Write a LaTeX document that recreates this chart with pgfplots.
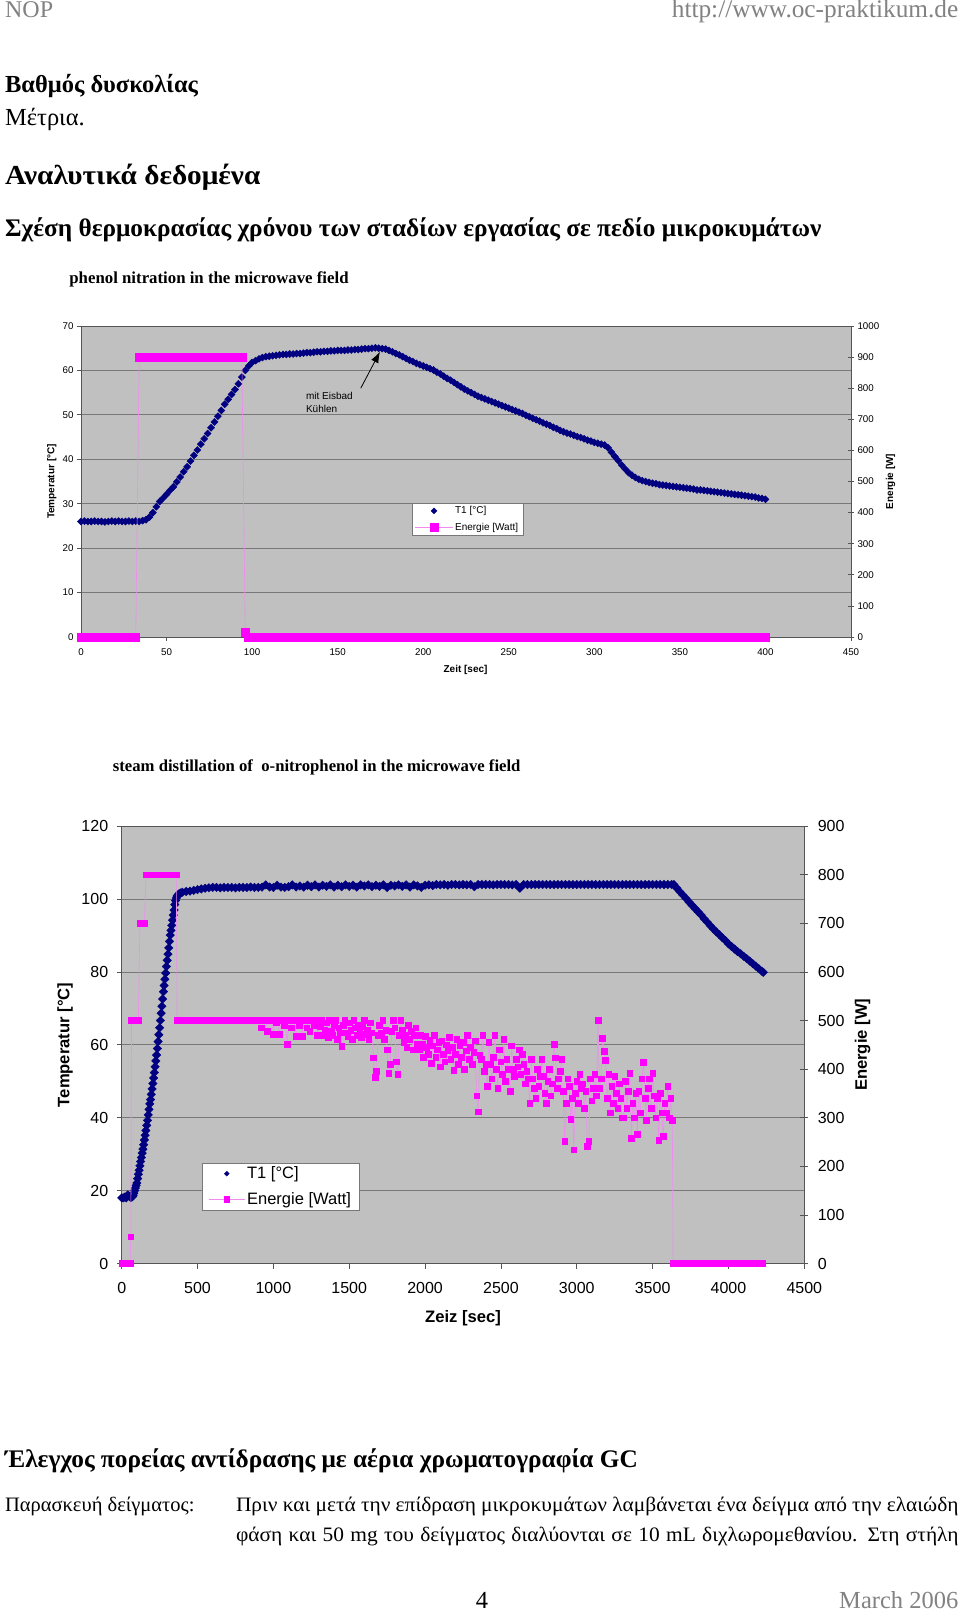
\documentclass[border=0pt]{standalone}
\usepackage{fontspec}
\setmainfont{Liberation Serif}
\newfontfamily\arial{Liberation Sans}
\newfontfamily\wideserif[FakeStretch=1.065]{Liberation Serif}
\newfontfamily\bodywide[FakeStretch=1.045]{Liberation Serif}
\usepackage{pgfplots}
\pgfplotsset{compat=1.18}
\usetikzlibrary{arrows.meta}
\definecolor{navyc}{RGB}{0,0,128}
\definecolor{mag}{RGB}{255,0,255}
\definecolor{pinkl}{RGB}{240,140,240}
\definecolor{bgc}{RGB}{192,192,192}
\definecolor{gridc}{RGB}{120,120,120}
\definecolor{axc}{RGB}{85,85,85}
\definecolor{hdr}{RGB}{130,130,130}
\newcommand{\fs}[1]{\fontsize{#1}{#1}\selectfont}
\pgfplotsset{
  xl/.style={scale only axis, clip=false,
    /pgf/number format/assume math mode=true,
    /pgf/number format/set thousands separator={}},
}
\begin{document}
\begin{tikzpicture}
\path[use as bounding box] (0,0) rectangle (960pt,-1616pt);
\fill[white] (0,0) rectangle (960pt,-1616pt);
% ---------- page text ----------
\node[anchor=base west,inner sep=0,text=hdr,font=\fs{24}] at (4.9pt,-17.5pt) {NOP};
\node[anchor=base east,inner sep=0,text=hdr,font=\fs{25.3}] at (958.5pt,-17.5pt) {http://www.oc-praktikum.de};
\node[anchor=base west,inner sep=0,font=\bfseries\fs{24.5}] at (4.9pt,-92.7pt) {Βαθμός δυσκολίας};
\node[anchor=base west,inner sep=0,font=\fs{24.5}] at (4.9pt,-126pt) {Μέτρια.};
\node[anchor=base west,inner sep=0,font=\wideserif\bfseries\fs{27.5}] at (4.9pt,-184.3pt) {Αναλυτικά δεδομένα};
\node[anchor=base west,inner sep=0,font=\bfseries\fs{25.3}] at (4.9pt,-236.3pt) {Σχέση θερμοκρασίας χρόνου των σταδίων εργασίας σε πεδίο μικροκυμάτων};
\node[anchor=base west,inner sep=0,font=\bfseries\fs{16.8}] at (69.2pt,-283.3pt) {phenol nitration in the microwave field};
\node[anchor=base west,inner sep=0,font=\bfseries\fs{16.7}] at (112.7pt,-771.4pt) {steam distillation of\ \ o-nitrophenol in the microwave field};
\node[anchor=base west,inner sep=0,font=\bfseries\fs{25.3}] at (4.9pt,-1467pt) {Έλεγχος πορείας αντίδρασης με αέρια χρωματογραφία GC};
\node[anchor=base west,inner sep=0,font=\fs{20.5}] at (4.9pt,-1511pt) {Παρασκευή δείγματος:};
\node[anchor=base west,inner sep=0,font=\bodywide\fs{20.5}] at (235.8pt,-1511pt) {\makebox[722.6pt][s]{Πριν και μετά την επίδραση μικροκυμάτων λαμβάνεται ένα δείγμα από την ελαιώδη}};
\node[anchor=base west,inner sep=0,font=\bodywide\fs{20.5}] at (235.8pt,-1541pt) {\makebox[722.6pt][s]{φάση και 50 mg του δείγματος διαλύονται σε 10 mL διχλωρομεθανίου. Στη στήλη}};
\node[anchor=base,inner sep=0,font=\fs{24.5}] at (482pt,-1608pt) {4};
\node[anchor=base east,inner sep=0,text=hdr,font=\fs{24.5}] at (958.5pt,-1608pt) {March 2006};
% ---------- chart 1 ----------
\begin{axis}[xl,
  at={(81pt,-637pt)}, anchor=south west, width=770pt, height=311pt,
  xmin=0, xmax=450, ymin=0, ymax=70,
  xtick={0,50,...,450}, ytick={0,10,...,70},
  xtick pos=bottom, ytick pos=left, tick align=outside, major tick length=4pt,
  axis background/.style={fill=bgc},
  ymajorgrids, major grid style={gridc, line width=0.8pt},
  axis line style={axc, line width=1pt},
  tick style={axc, line width=0.8pt},
  tick label style={font=\arial\fs{9.75}},
  xticklabel style={yshift=-4pt},
  xlabel={Zeit [sec]}, ylabel={Temperatur [°C]},
  every axis y label/.style={at={(axis description cs:-0.038,0.5)}, rotate=90, anchor=center, font=\arial\bfseries\fs{10}},
  every axis x label/.style={at={(axis description cs:0.4994,-0.106)}, anchor=center, font=\arial\bfseries\fs{10}},
]
\addplot[only marks, mark=square*, mark size=2.5pt, mark options={rotate=45, fill=navyc, draw=navyc}] table[row sep=\\] {
t y\\
0 26.0\\ 2 26.1\\ 4 26.0\\ 6 26.0\\ 8 26.1\\ 10 26.0\\ 12 26.0\\ 14 25.9\\ 16 26.0\\ 18 26.1\\ 20 26.0\\ 22 26.1\\ 24 26.0\\ 26 26.0\\ 28 26.1\\ 30 26.0\\ 32 26.1\\ 34 26.0\\ 36 26.2\\ 38 26.4\\
40 27.0\\ 42 28.0\\ 44 29.3\\ 46 30.5\\ 48 31.3\\ 50 32.1\\ 52 33.0\\ 54 33.8\\ 56 34.9\\ 58 36.0\\ 60 37.2\\ 62 38.3\\ 64 39.6\\ 66 40.9\\ 68 42.1\\ 70 43.4\\ 72 44.6\\ 74 45.8\\ 76 47.1\\ 78 48.4\\
80 49.7\\ 82 51.0\\ 84 52.4\\ 86 53.5\\ 88 54.6\\ 90 55.7\\ 92 57.0\\ 94 58.5\\ 96 60.0\\ 98 61.0\\ 100 61.8\\ 102 62.2\\ 104 62.6\\ 106 62.9\\ 108 63.1\\ 110 63.2\\ 112 63.3\\ 114 63.4\\ 116 63.5\\ 118 63.6\\
120 63.6\\ 122 63.7\\ 124 63.7\\ 126 63.8\\ 128 63.8\\ 130 63.9\\ 132 64.0\\ 134 64.0\\ 136 64.1\\ 138 64.2\\ 140 64.2\\ 142 64.3\\ 144 64.3\\ 146 64.4\\ 148 64.4\\ 150 64.5\\ 152 64.5\\ 154 64.5\\ 156 64.6\\ 158 64.6\\
160 64.7\\ 162 64.7\\ 164 64.8\\ 166 64.9\\ 168 64.9\\ 170 65.0\\ 172 65.1\\ 174 65.0\\ 176 64.9\\ 178 64.8\\ 180 64.5\\ 182 64.2\\ 184 63.8\\ 186 63.5\\ 188 63.1\\ 190 62.7\\ 192 62.3\\ 194 62.0\\ 196 61.6\\ 198 61.3\\
200 61.0\\ 202 60.7\\ 204 60.4\\ 206 60.1\\ 208 59.6\\ 210 59.2\\ 212 58.7\\ 214 58.2\\ 216 57.8\\ 218 57.3\\ 220 56.8\\ 222 56.3\\ 224 55.8\\ 226 55.4\\ 228 55.0\\ 230 54.6\\ 232 54.2\\ 234 53.9\\ 236 53.6\\ 238 53.3\\
240 53.0\\ 242 52.7\\ 244 52.4\\ 246 52.1\\ 248 51.8\\ 250 51.5\\ 252 51.2\\ 254 50.9\\ 256 50.6\\ 258 50.3\\ 260 49.9\\ 262 49.6\\ 264 49.2\\ 266 48.9\\ 268 48.6\\ 270 48.2\\ 272 47.9\\ 274 47.6\\ 276 47.2\\ 278 46.9\\
280 46.5\\ 282 46.2\\ 284 45.9\\ 286 45.7\\ 288 45.4\\ 290 45.1\\ 292 44.9\\ 294 44.6\\ 296 44.3\\ 298 44.1\\ 300 43.8\\ 302 43.6\\ 304 43.4\\ 306 43.2\\ 308 42.6\\ 310 41.6\\ 312 40.6\\ 314 39.7\\ 316 38.7\\ 318 37.8\\
320 37.0\\ 322 36.4\\ 324 35.9\\ 326 35.5\\ 328 35.2\\ 330 35.0\\ 332 34.8\\ 334 34.6\\ 336 34.5\\ 338 34.3\\ 340 34.2\\ 342 34.1\\ 344 34.0\\ 346 33.9\\ 348 33.8\\ 350 33.7\\ 352 33.6\\ 354 33.5\\ 356 33.4\\ 358 33.3\\
360 33.1\\ 362 33.1\\ 364 33.0\\ 366 32.9\\ 368 32.8\\ 370 32.7\\ 372 32.6\\ 374 32.5\\ 376 32.4\\ 378 32.3\\ 380 32.2\\ 382 32.1\\ 384 32.0\\ 386 31.9\\ 388 31.8\\ 390 31.7\\ 392 31.6\\ 394 31.5\\ 396 31.3\\ 398 31.2\\ 400 31.0\\
};
\draw[-{Latex[length=11pt,width=8pt]}, line width=0.8pt] (axis cs:163.5,56.0) -- (axis cs:174.7,64.2);
\node[anchor=base west, inner sep=0, font=\arial\fs{10}] at (axis cs:131.4,53.5) {mit Eisbad};
\node[anchor=base west, inner sep=0, font=\arial\fs{10}] at (axis cs:131.4,50.5) {Kühlen};
\end{axis}
\begin{axis}[xl,
  at={(81pt,-637pt)}, anchor=south west, width=770pt, height=311pt,
  xmin=0, xmax=450, ymin=0, ymax=1000,
  axis x line=none, axis y line*=right,
  ytick={0,100,...,1000}, ytick align=center, major tick length=6pt,
  y axis line style={axc, line width=1pt, -},
  tick style={axc, line width=0.8pt},
  tick label style={font=\arial\fs{9.75}},
  ylabel={Energie [W]},
  every axis y label/.style={at={(axis description cs:1.0515,0.5)}, rotate=90, anchor=center, font=\arial\bfseries\fs{10}},
  legend image code/.code={\draw[#1,mark repeat=2,mark phase=2] plot coordinates {(0pt,0pt) (18.8pt,0pt) (37.6pt,0pt)};},
  legend style={at={(axis description cs:0.4295,0.4299)}, anchor=north west, draw=gridc, fill=white,
    font=\arial\fs{10}, inner xsep=3pt, inner ysep=1pt, row sep=4pt, cells={anchor=west}},
]
\addlegendimage{only marks, mark=square*, mark size=2.1pt, mark options={rotate=45, fill=navyc, draw=navyc}}
\addlegendentry{T1 [°C]}
\addplot[pinkl, line width=0.6pt, mark=square*, mark size=4pt, mark options={fill=mag, draw=mag}] table[row sep=\\] {
t e\\
0 0\\ 4 0\\ 8 0\\ 12 0\\ 16 0\\ 20 0\\ 24 0\\ 28 0\\ 32 0\\
34 900\\ 38 900\\ 42 900\\ 46 900\\ 50 900\\ 54 900\\ 58 900\\ 62 900\\ 66 900\\ 70 900\\ 74 900\\ 78 900\\ 82 900\\ 86 900\\ 90 900\\ 94 900\\
96 14\\
98 0\\ 102 0\\ 106 0\\ 110 0\\ 114 0\\ 118 0\\ 122 0\\ 126 0\\ 130 0\\ 134 0\\ 138 0\\ 142 0\\ 146 0\\ 150 0\\ 154 0\\ 158 0\\ 162 0\\ 166 0\\ 170 0\\ 174 0\\
178 0\\ 182 0\\ 186 0\\ 190 0\\ 194 0\\ 198 0\\ 202 0\\ 206 0\\ 210 0\\ 214 0\\ 218 0\\ 222 0\\ 226 0\\ 230 0\\ 234 0\\ 238 0\\ 242 0\\ 246 0\\ 250 0\\ 254 0\\
258 0\\ 262 0\\ 266 0\\ 270 0\\ 274 0\\ 278 0\\ 282 0\\ 286 0\\ 290 0\\ 294 0\\ 298 0\\ 302 0\\ 306 0\\ 310 0\\ 314 0\\ 318 0\\ 322 0\\ 326 0\\ 330 0\\ 334 0\\
338 0\\ 342 0\\ 346 0\\ 350 0\\ 354 0\\ 358 0\\ 362 0\\ 366 0\\ 370 0\\ 374 0\\ 378 0\\ 382 0\\ 386 0\\ 390 0\\ 394 0\\ 398 0\\ 400 0\\
};
\addlegendentry{Energie [Watt]}
\end{axis}
% ---------- chart 2 ----------
\begin{axis}[xl,
  at={(121.7pt,-1263.5pt)}, anchor=south west, width=682.6pt, height=437.3pt,
  xmin=0, xmax=4500, ymin=0, ymax=120,
  xtick={0,500,...,4500}, ytick={0,20,...,120},
  xtick pos=bottom, ytick pos=left, tick align=outside, major tick length=5pt,
  axis background/.style={fill=bgc},
  ymajorgrids, major grid style={gridc, line width=0.8pt},
  axis line style={axc, line width=1pt},
  tick style={axc, line width=0.8pt},
  tick label style={font=\arial\fs{16}},
  xticklabel style={yshift=-10pt},
  yticklabel style={xshift=-5pt},
  xlabel={Zeiz [sec]}, ylabel={Temperatur [°C]},
  every axis y label/.style={at={(axis description cs:-0.0831,0.5)}, rotate=90, anchor=center, font=\arial\bfseries\fs{16.6}},
  every axis x label/.style={at={(axis description cs:0.5,-0.1246)}, anchor=center, font=\arial\bfseries\fs{16.6}},
]
\addplot[only marks, mark=square*, mark size=3pt, mark options={rotate=45, fill=navyc, draw=navyc}] table[row sep=\\] {
t y\\
0 18.0\\ 10 18.0\\ 20 18.2\\ 30 18.0\\ 40 18.8\\ 50 18.5\\ 60 18.1\\ 70 18.3\\ 75 18.6\\ 80 19.3\\ 85 20.0\\ 90 20.7\\ 95 21.4\\
100 22.1\\ 105 23.3\\ 110 24.5\\ 115 25.6\\ 120 26.8\\ 125 28.0\\ 130 29.1\\ 135 30.3\\ 140 31.4\\ 145 32.6\\ 150 33.9\\ 155 35.2\\ 160 36.5\\ 165 37.9\\ 170 39.3\\ 175 40.8\\ 180 42.3\\ 185 43.8\\ 190 45.0\\ 195 46.4\\
200 47.9\\ 205 49.4\\ 210 50.9\\ 215 52.4\\ 220 54.0\\ 225 55.6\\ 230 57.2\\ 235 59.0\\ 240 60.9\\ 245 62.8\\ 250 64.7\\ 255 66.7\\ 260 68.7\\ 265 70.6\\ 270 72.6\\ 275 74.6\\ 280 76.3\\ 285 78.0\\ 290 79.7\\ 295 81.5\\
300 83.2\\ 305 84.9\\ 310 86.6\\ 315 88.4\\ 320 90.1\\ 325 91.4\\ 330 92.8\\ 335 94.2\\ 340 95.6\\ 345 97.0\\ 350 98.5\\ 355 99.6\\ 360 100.3\\ 365 100.8\\ 370 101.1\\ 375 101.3\\ 380 101.5\\ 390 101.7\\
400 101.9\\ 425 102.1\\ 450 102.2\\ 475 102.4\\ 500 102.6\\ 525 102.8\\ 550 103.0\\ 575 103.1\\ 600 103.2\\ 625 103.2\\ 650 103.1\\ 675 103.2\\ 700 103.2\\ 725 103.2\\ 750 103.1\\ 775 103.2\\ 800 103.2\\ 825 103.2\\ 850 103.3\\ 875 103.2\\
900 103.2\\ 925 103.3\\ 950 103.9\\ 975 103.3\\ 1000 103.2\\ 1025 103.8\\ 1050 103.3\\ 1075 103.2\\ 1100 103.4\\ 1125 103.9\\ 1150 103.3\\ 1175 103.6\\ 1200 103.3\\ 1225 103.8\\ 1250 103.4\\ 1275 103.9\\ 1300 103.3\\ 1325 103.8\\ 1350 103.5\\ 1375 103.9\\
1400 103.3\\ 1425 103.8\\ 1450 103.4\\ 1475 103.9\\ 1500 103.5\\ 1525 103.8\\ 1550 103.3\\ 1575 103.9\\ 1600 103.6\\ 1625 103.9\\ 1650 103.4\\ 1675 103.8\\ 1700 103.5\\ 1725 103.9\\ 1750 103.2\\ 1775 103.8\\ 1800 103.6\\ 1825 103.9\\ 1850 103.5\\ 1875 103.9\\
1900 103.3\\ 1925 103.9\\ 1950 103.6\\ 1975 103.2\\ 2000 103.8\\ 2025 103.9\\ 2050 103.7\\ 2075 104.0\\ 2100 103.9\\ 2125 104.0\\ 2150 103.8\\ 2175 104.0\\ 2200 104.0\\ 2225 103.9\\ 2250 104.0\\ 2275 103.9\\ 2300 104.0\\ 2325 103.4\\ 2350 104.0\\ 2375 104.0\\
2400 104.0\\ 2425 104.0\\ 2450 103.9\\ 2475 104.0\\ 2500 104.0\\ 2525 104.0\\ 2550 104.0\\ 2575 103.9\\ 2600 104.0\\ 2625 103.0\\ 2650 104.0\\ 2675 104.0\\ 2700 104.0\\ 2725 104.0\\ 2750 104.0\\ 2775 104.0\\ 2800 104.0\\ 2825 104.0\\ 2850 104.0\\ 2875 104.0\\
2900 104.0\\ 2925 104.0\\ 2950 104.0\\ 2975 104.0\\ 3000 104.0\\ 3025 104.0\\ 3050 104.0\\ 3075 104.0\\ 3100 104.0\\ 3125 104.0\\ 3150 104.0\\ 3175 104.0\\ 3200 104.0\\ 3225 104.0\\ 3250 104.0\\ 3275 104.0\\ 3300 104.0\\ 3325 104.0\\ 3350 104.0\\ 3375 104.0\\
3400 104.0\\ 3425 104.0\\ 3450 104.0\\ 3475 104.0\\ 3500 104.0\\ 3525 104.0\\ 3550 104.0\\ 3575 104.0\\ 3600 104.0\\ 3625 104.0\\ 3640 104.0\\
3660 103.0\\ 3680 102.0\\ 3700 101.1\\ 3720 100.2\\ 3740 99.2\\ 3760 98.3\\ 3780 97.4\\ 3800 96.5\\ 3820 95.6\\ 3840 94.6\\ 3860 93.7\\ 3880 92.7\\ 3900 91.8\\ 3920 91.0\\ 3940 90.2\\ 3960 89.4\\ 3980 88.6\\
4000 87.7\\ 4020 87.0\\ 4040 86.3\\ 4060 85.6\\ 4080 85.0\\ 4100 84.3\\ 4120 83.7\\ 4140 83.0\\ 4160 82.3\\ 4180 81.6\\ 4200 80.9\\ 4220 80.2\\ 4230 79.9\\
};
\end{axis}
\begin{axis}[xl,
  at={(121.7pt,-1263.5pt)}, anchor=south west, width=682.6pt, height=437.3pt,
  xmin=0, xmax=4500, ymin=0, ymax=900,
  axis x line=none, axis y line*=right,
  ytick={0,100,...,900}, ytick align=center, major tick length=8pt,
  y axis line style={axc, line width=1pt, -},
  tick style={axc, line width=0.8pt},
  tick label style={font=\arial\fs{16}},
  yticklabel style={xshift=6pt},
  ylabel={Energie [W]},
  every axis y label/.style={at={(axis description cs:1.0856,0.5)}, rotate=90, anchor=center, font=\arial\bfseries\fs{16.6}},
  legend image code/.code={\draw[#1,mark repeat=2,mark phase=2] plot coordinates {(0pt,0pt) (18pt,0pt) (36pt,0pt)};},
  legend style={at={(axis description cs:0.1181,0.2304)}, anchor=north west, draw=gridc, fill=white,
    font=\arial\fs{16.5}, inner xsep=6pt, inner ysep=2pt, row sep=8pt, cells={anchor=west}},
]
\addlegendimage{only marks, mark=square*, mark size=1.7pt, mark options={rotate=45, fill=navyc, draw=navyc}}
\addlegendentry{T1 [°C]}
\addplot[pinkl, line width=0.6pt, mark=square*, mark size=2.8pt, mark options={fill=mag, draw=mag}] table[row sep=\\] {
t e\\
0 0\\ 15 0\\ 30 0\\ 45 0\\ 55 0\\ 60 55\\ 65 500\\ 80 500\\ 95 500\\ 110 500\\ 120 700\\ 135 700\\ 150 700\\
160 800\\ 180 800\\ 200 800\\ 220 800\\ 240 800\\ 260 800\\ 280 800\\ 300 800\\ 320 800\\ 340 800\\ 360 800\\
365 500\\ 380 500\\ 400 500\\ 425 500\\ 450 500\\ 475 500\\ 500 500\\ 525 500\\ 550 500\\ 575 500\\ 600 500\\ 625 500\\ 650 500\\ 675 500\\ 700 500\\ 725 500\\ 750 500\\ 775 500\\ 800 500\\ 825 500\\ 850 500\\ 875 500\\
900 500\\ 910 500\\ 920 485\\ 930 500\\ 940 500\\ 950 500\\ 960 478\\ 970 500\\ 980 500\\ 990 500\\ 1000 472\\ 1010 500\\ 1020 495\\ 1030 500\\ 1040 472\\ 1050 500\\ 1060 500\\ 1070 490\\ 1080 500\\ 1090 451\\ 1100 500\\
1110 500\\ 1120 485\\ 1130 500\\ 1140 500\\ 1150 468\\ 1160 500\\ 1170 490\\ 1180 500\\ 1190 468\\ 1200 500\\ 1210 500\\ 1220 485\\ 1230 500\\ 1240 478\\ 1250 500\\ 1260 500\\ 1270 490\\ 1280 500\\ 1290 470\\ 1300 500\\
1310 488\\ 1320 500\\ 1330 470\\ 1340 480\\ 1350 495\\ 1360 465\\ 1370 500\\ 1380 478\\ 1390 470\\ 1400 490\\ 1410 500\\ 1420 462\\ 1430 485\\ 1440 475\\ 1450 447\\ 1460 490\\ 1470 500\\ 1480 475\\
1490 468\\ 1500 495\\ 1510 480\\ 1520 462\\ 1530 500\\ 1540 485\\ 1550 470\\ 1560 490\\ 1570 478\\ 1580 465\\ 1590 488\\ 1600 500\\ 1610 472\\ 1620 480\\ 1630 462\\ 1640 495\\ 1650 475\\
1660 423\\ 1670 383\\ 1680 395\\ 1690 470\\ 1700 490\\ 1710 475\\ 1720 500\\ 1730 462\\ 1740 480\\ 1750 440\\ 1760 392\\ 1770 410\\ 1780 478\\ 1790 500\\ 1800 485\\
1810 415\\ 1820 390\\ 1830 470\\ 1840 500\\ 1850 480\\ 1860 455\\ 1870 470\\ 1880 445\\ 1890 490\\ 1900 462\\ 1910 478\\ 1920 440\\ 1930 470\\ 1940 485\\ 1950 452\\
1960 440\\ 1970 470\\ 1980 452\\ 1990 425\\ 2000 468\\ 2010 445\\ 2020 430\\ 2030 460\\ 2040 412\\ 2050 448\\ 2060 470\\ 2070 425\\ 2080 440\\ 2090 455\\ 2100 405\\ 2110 458\\ 2120 430\\ 2130 415\\ 2140 450\\ 2150 438\\
2160 465\\ 2170 420\\ 2180 445\\ 2190 398\\ 2200 430\\ 2210 462\\ 2220 410\\ 2230 448\\ 2240 425\\ 2250 455\\ 2260 400\\ 2270 438\\ 2280 470\\ 2290 420\\ 2300 445\\ 2310 410\\ 2320 435\\ 2330 458\\ 2340 345\\ 2350 312\\ 2360 428\\
2370 420\\ 2380 470\\ 2390 395\\ 2400 410\\ 2410 365\\ 2420 455\\ 2430 410\\ 2440 380\\ 2450 425\\ 2460 470\\ 2470 400\\ 2480 360\\ 2490 440\\ 2500 415\\ 2510 390\\
2520 462\\ 2530 375\\ 2540 420\\ 2550 400\\ 2560 355\\ 2570 448\\ 2580 400\\ 2590 385\\ 2600 420\\ 2610 405\\ 2620 440\\ 2630 390\\ 2640 430\\ 2650 410\\
2660 370\\ 2670 395\\ 2680 380\\ 2690 330\\ 2700 420\\ 2710 380\\ 2720 360\\ 2730 340\\ 2740 400\\ 2750 365\\ 2760 385\\ 2770 420\\ 2780 385\\ 2790 350\\ 2800 330\\ 2810 375\\ 2820 400\\ 2830 345\\ 2840 370\\
2850 451\\ 2860 423\\ 2870 360\\ 2880 380\\ 2890 395\\ 2900 420\\ 2910 355\\ 2920 251\\ 2930 330\\ 2940 380\\ 2950 365\\ 2960 297\\ 2970 340\\ 2980 234\\ 2990 350\\ 3000 375\\ 3010 330\\ 3020 390\\ 3030 360\\
3040 370\\ 3050 320\\ 3060 355\\ 3070 241\\ 3080 251\\ 3090 380\\ 3100 335\\ 3110 360\\ 3120 390\\ 3130 345\\ 3140 500\\ 3150 360\\ 3160 380\\ 3170 463\\
3180 437\\ 3190 418\\ 3200 340\\ 3210 390\\ 3220 310\\ 3230 365\\ 3240 330\\ 3250 385\\ 3260 350\\ 3270 320\\ 3280 370\\ 3290 340\\ 3300 300\\
3310 300\\ 3320 375\\ 3330 320\\ 3340 355\\ 3350 392\\ 3360 258\\ 3370 330\\ 3380 300\\ 3390 350\\ 3400 266\\ 3410 355\\ 3420 310\\ 3430 380\\ 3440 414\\ 3450 340\\ 3460 295\\ 3470 360\\
3480 380\\ 3490 320\\ 3500 392\\ 3510 345\\ 3520 300\\ 3530 340\\ 3540 254\\ 3550 350\\ 3560 310\\ 3570 262\\ 3580 330\\ 3590 310\\ 3600 365\\ 3610 300\\ 3620 340\\ 3630 295\\
3635 0\\ 3665 0\\ 3695 0\\ 3725 0\\ 3755 0\\ 3785 0\\ 3815 0\\ 3845 0\\ 3875 0\\ 3905 0\\ 3935 0\\ 3965 0\\ 3995 0\\ 4025 0\\ 4055 0\\ 4085 0\\ 4115 0\\ 4145 0\\ 4175 0\\ 4205 0\\ 4225 0\\
};
\addlegendentry{Energie [Watt]}
\end{axis}
\end{tikzpicture}
\end{document}
